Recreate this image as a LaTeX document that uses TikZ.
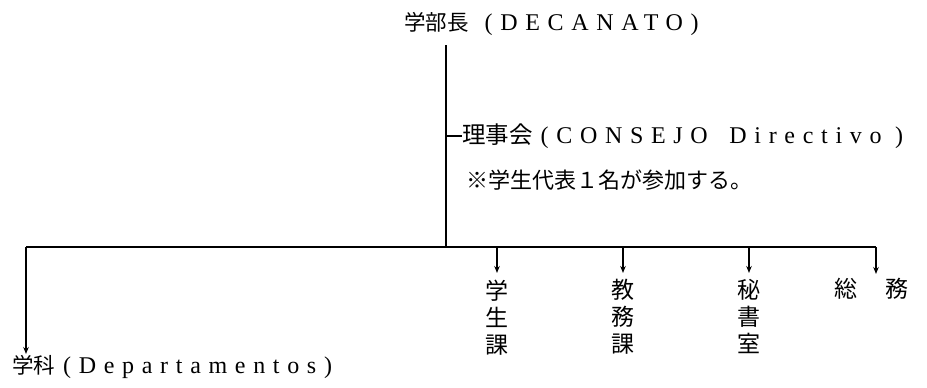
\documentclass[tikz,border=0pt]{standalone}
\usepackage{fontspec}
\setmainfont{Liberation Serif}
\newfontfamily\jp{Noto Sans CJK JP}
\newfontfamily\ls[LetterSpace=32]{Liberation Serif}
\usetikzlibrary{arrows.meta}
\begin{document}
\begin{tikzpicture}[x=1pt,y=-1pt,
  lbl/.style={inner sep=0pt,anchor=west,font=\fontsize{24}{26}\selectfont},
  vtext/.style={inner sep=0pt,align=center,font=\jp\fontsize{23}{27}\selectfont},
  ln/.style={line width=1.7pt},
  arr/.style={line width=1.7pt,-{Stealth[length=7pt,width=5.5pt]}}]
\useasboundingbox (0,0) rectangle (927,388);
% labels
\node[lbl] (dean) at (404,24) {{\jp\fontsize{21.5}{26}\selectfont 学部長}\hspace{16pt}{\ls (DECANATO)}};
\node[lbl] (riji) at (462,136) {{\jp\fontsize{23.5}{26}\selectfont 理事会}\hspace{8pt}{\ls (CONSEJO\hspace{8pt} Directivo )}};
\node[lbl] (note) at (466,180) {\jp\fontsize{22}{24}\selectfont ※学生代表１名が参加する。};
\node[lbl] (dept) at (12,367) {{\jp\fontsize{21.5}{26}\selectfont 学科}\hspace{8pt}{\ls (Departamentos)}};
\node[vtext] (gaku) at (497,318) {学\\生\\課};
\node[vtext] (kyo) at (623,317) {教\\務\\課};
\node[vtext] (hi) at (749,316) {秘\\書\\室};
\node[inner sep=0pt,font=\jp\fontsize{23}{27}\selectfont] (so) at (846,289) {総};
\node[inner sep=0pt,font=\jp\fontsize{23}{27}\selectfont] (mu) at (897,289) {務};
% coordinates
\coordinate (top) at (446,45);
\coordinate (jn) at (446,247);
\coordinate (st) at (446,136);
\coordinate (L) at (26,247);
\coordinate (R) at (876,247);
\coordinate (b1) at (497,247);
\coordinate (b2) at (623,247);
\coordinate (b3) at (749,247);
\coordinate (t1) at (497,273);
\coordinate (t2) at (623,273);
\coordinate (t3) at (749,273);
\coordinate (t4) at (876,274);
\coordinate (tL) at (26,354);
% connectors
\draw[ln] (top) -- (jn);
\draw[ln] (st) -- (riji.west);
\draw[ln] (L) -- (R);
\draw[arr] (L) -- (tL);
\draw[arr] (b1) -- (t1);
\draw[arr] (b2) -- (t2);
\draw[arr] (b3) -- (t3);
\draw[arr] (R) -- (t4);
\end{tikzpicture}
\end{document}
